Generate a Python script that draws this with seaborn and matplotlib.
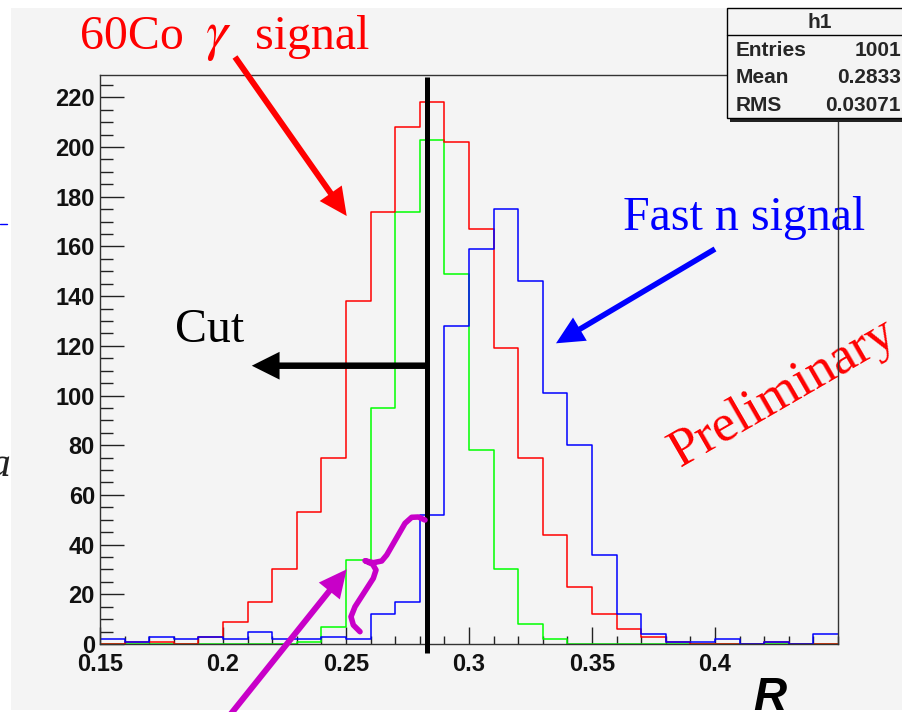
import numpy as np
import pandas as pd
import matplotlib
matplotlib.use("Agg")
import matplotlib.pyplot as plt
from matplotlib.patches import Rectangle, FancyArrowPatch, ArrowStyle
from matplotlib.ticker import MultipleLocator
import seaborn as sns

# ---------------- data ----------------
bin_lo, bin_hi, bin_w = 0.15, 0.45, 0.01
red_gamma = [0, 1, 1, 0, 3, 9, 17, 30, 53, 75, 138, 174, 208, 218, 202,
             167, 119, 75, 44, 23, 12, 6, 3, 1, 0, 0, 0, 1, 0, 0]
blue_fastn = [2, 1, 3, 2, 3, 2, 5, 2, 2, 3, 2, 12, 17, 52, 128,
              159, 175, 146, 101, 80, 36, 12, 4, 1, 1, 2, 0, 1, 0, 4]
green_other = [0, 0, 0, 0, 0, 0, 0, 0, 1, 7, 34, 95, 174, 203, 149,
               78, 30, 8, 2, 0, 0, 0, 0, 0, 0, 0, 0, 0, 0, 0]
xticks = [0.15, 0.2, 0.25, 0.3, 0.35, 0.4]
xtick_labels = ["0.15", "0.2", "0.25", "0.3", "0.35", "0.4"]
yticks = [0, 20, 40, 60, 80, 100, 120, 140, 160, 180, 200, 220]
cut_value = 0.283
stats_rows = [("Entries", "1001"), ("Mean", "0.2833"), ("RMS", "0.03071")]

edges = np.round(np.arange(bin_lo, bin_hi + bin_w / 2, bin_w), 3)
centers = (edges[:-1] + edges[1:]) / 2
df = pd.concat([
    pd.DataFrame({"R": centers, "count": blue_fastn, "sample": "fast_n"}),
    pd.DataFrame({"R": centers, "count": red_gamma, "sample": "gamma_60Co"}),
    pd.DataFrame({"R": centers, "count": green_other, "sample": "other"}),
], ignore_index=True)
palette = {"fast_n": "#0000ff", "gamma_60Co": "#ff0000", "other": "#00ff00"}

# ---------------- figure ----------------
sns.set_theme(style="ticks")
plt.rcParams["font.family"] = ["Liberation Sans", "DejaVu Sans"]

W, H = 903, 712
def F(x, y):
    return (x / W, 1 - y / H)

fig = plt.figure(figsize=(W / 100, H / 100), dpi=100, facecolor="white")
fig.patches.append(Rectangle(F(11, 710), (W - 11) / W, (710 - 8) / H,
                             transform=fig.transFigure, facecolor="#f4f4f4",
                             edgecolor="none", zorder=-10))

ax = fig.add_axes([100 / W, 1 - 644 / H, 738 / W, (644 - 75) / H])
ax.set_facecolor("#f4f4f4")

sns.histplot(data=df, x="R", weights="count", hue="sample",
             binwidth=bin_w, binrange=(bin_lo, bin_hi),
             element="step", fill=False, palette=palette,
             hue_order=["fast_n", "gamma_60Co", "other"],
             linewidth=1.1, legend=False, ax=ax)

ax.set_xlim(bin_lo, bin_hi)
ax.set_ylim(0, 229)
ax.set_xlabel("")
ax.set_ylabel("")
ax.set_xticks(xticks)
ax.set_xticklabels(xtick_labels)
ax.set_yticks(yticks)
ax.set_yticklabels([str(v) for v in yticks])
ax.xaxis.set_minor_locator(MultipleLocator(0.01))
ax.yaxis.set_minor_locator(MultipleLocator(5))
ax.tick_params(axis="x", which="major", direction="in", length=12, width=1,
               color="#222222", pad=6.5, labelsize=17)
ax.tick_params(axis="x", which="minor", direction="in", length=6, width=1,
               color="#222222")
ax.tick_params(axis="y", which="major", direction="in", length=17.5, width=1,
               color="#222222", pad=3.6, labelsize=17)
ax.tick_params(axis="y", which="minor", direction="in", length=9, width=1,
               color="#222222")
for lbl in ax.get_xticklabels() + ax.get_yticklabels():
    lbl.set_fontweight("bold")
    lbl.set_color("#111111")
for s in ax.spines.values():
    s.set_linewidth(1.0)
    s.set_color("#333333")
    s.set_visible(True)

# ---------------- cut line and arrow ----------------
ax.plot([cut_value, cut_value], [-3.6, 228.2], color="black", lw=3.6,
        clip_on=False, solid_capstyle="butt", zorder=5)
cut_arrow = FancyArrowPatch((cut_value, 112), (0.2117, 112),
                            arrowstyle=ArrowStyle.Simple(head_length=1.0, head_width=1.0,
                                                         tail_width=0.234),
                            mutation_scale=20, color="black", lw=0,
                            shrinkA=0, shrinkB=0, transform=ax.transData,
                            clip_on=False, zorder=5)
ax.add_patch(cut_arrow)

# ---------------- annotation arrows ----------------
def farrow(tail, tip, color, tw=0.216):
    p = FancyArrowPatch(F(*tail), F(*tip),
                        arrowstyle=ArrowStyle.Simple(head_length=1.0, head_width=0.97,
                                                     tail_width=tw),
                        mutation_scale=20, color=color, lw=0,
                        shrinkA=0, shrinkB=0, transform=fig.transFigure,
                        clip_on=False, zorder=6)
    fig.patches.append(p)

farrow((235, 57), (346.7, 216), "#ff0000")
farrow((715, 249), (556, 343.3), "#0000ff", tw=0.2)
farrow((222, 725), (346.7, 569.3), "#c800c8")

brace = [(360, 631.7), (353.3, 625), (351, 616.7), (355, 606.7), (373.3, 578.3),
         (376, 570), (372.7, 564.3), (365, 560.7), (373.3, 562.7), (381.7, 561),
         (386.7, 555), (405, 523.3), (411.7, 517.3), (418.3, 517), (425, 520)]
bx = [p[0] / W for p in brace]
by = [1 - p[1] / H for p in brace]
fig.add_artist(plt.Line2D(bx, by, transform=fig.transFigure, color="#c800c8",
                          lw=4, solid_joinstyle="round", solid_capstyle="round",
                          zorder=6))

# ---------------- texts ----------------
serif = ["Liberation Serif", "DejaVu Serif"]
fig.text(*F(80, 49.3), "60Co", color="#ff0000", fontsize=34.5, family=serif,
         fontweight="normal", va="baseline", ha="left")
fig.text(*F(205, 49.3), r"$\gamma$", color="#ff0000", fontsize=40,
         math_fontfamily="stix", va="baseline", ha="left")
fig.text(*F(255, 49.3), "signal", color="#ff0000", fontsize=34.5, family=serif,
         fontweight="normal", va="baseline", ha="left")
ax.text(*F(623, 230), "Fast n signal", color="#0000ff", fontsize=34.5, family=serif,
        fontweight="normal", va="baseline", ha="left", transform=fig.transFigure,
        zorder=2)
fig.text(*F(175, 342), "Cut", color="black", fontsize=34.5, family=serif,
         fontweight="normal", va="baseline", ha="left")
ax.text(*F(680, 467), "Preliminary", color="#ff0000", fontsize=38.5, family=serif,
        fontweight="normal", rotation=30, rotation_mode="anchor",
        va="baseline", ha="left", transform=fig.transFigure, zorder=2)
fig.text(*F(770, 710), "R", fontsize=33, fontweight="bold", style="italic",
         ha="center", va="baseline", color="black")

# stray slide marks at left edge
fig.add_artist(plt.Line2D([0, 7 / W], [1 - 224 / H] * 2, transform=fig.transFigure,
                          color="#0000ff", lw=1))
fig.text(*F(11, 476), "a", fontsize=30, family=serif, style="italic",
         fontweight="normal", ha="right", va="baseline", color="#222222")

# ---------------- stats box ----------------
fig.patches.append(Rectangle(F(730, 121.5), 180 / W, (121.5 - 11) / H,
                             transform=fig.transFigure, facecolor="#222222",
                             edgecolor="none", zorder=7))
fig.patches.append(Rectangle(F(727, 118.3), 180 / W, (118.3 - 8.3) / H,
                             transform=fig.transFigure, facecolor="#f4f4f4",
                             edgecolor="black", lw=1, zorder=8))
fig.add_artist(plt.Line2D([727 / W, 1], [1 - 35 / H] * 2, transform=fig.transFigure,
                          color="black", lw=1, zorder=9))
fig.text(*F(820, 28), "h1", fontsize=15, fontweight="bold", ha="center",
         va="baseline", zorder=10)
for (name, val), yb in zip(stats_rows, [56, 83.3, 111]):
    fig.text(*F(736, yb), name, fontsize=15, fontweight="bold", ha="left",
             va="baseline", zorder=10)
    fig.text(*F(901, yb), val, fontsize=15, fontweight="bold", ha="right",
             va="baseline", zorder=10)

fig.savefig("out.png", dpi=100, facecolor="white")
